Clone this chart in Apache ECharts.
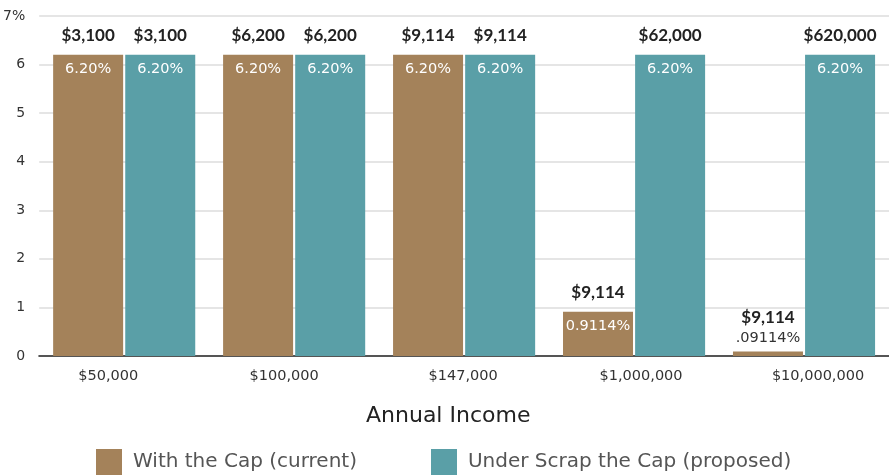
<!DOCTYPE html>
<html>
<head>
<meta charset="utf-8">
<script src="https://cdn.jsdelivr.net/npm/echarts@6/dist/echarts.min.js"></script>
<style>
  html, body { margin: 0; padding: 0; background: #fff; }
  #chart { width: 889px; height: 475px; }
</style>
</head>
<body>
<div id="chart"></div>
<script>
const incomes = ['$50,000', '$100,000', '$147,000', '$1,000,000', '$10,000,000']
const withCapRate = [6.2, 6.2, 6.2, 0.9114, 0.09114]
const scrapCapRate = [6.2, 6.2, 6.2, 6.2, 6.2]
const withCapTax = ['$3,100', '$6,200', '$9,114', '$9,114', '$9,114']
const scrapCapTax = ['$3,100', '$6,200', '$9,114', '$62,000', '$620,000']
const withCapRateText = ['6.20%', '6.20%', '6.20%', '0.9114%', '.09114%']
const scrapCapRateText = ['6.20%', '6.20%', '6.20%', '6.20%', '6.20%']

const BROWN = '#A4825A'
const TEAL = '#5A9FA7'
const FONT = 'DejaVu Sans'
const BOLD_FONT = 'Lato'

// 原图 x 轴标签没有正好居中在柱组下面，逐个微调（像素）
const labelShift = [-16, -10, -1, 7, 14]
const labelRich = {}
labelShift.forEach((s, i) => {
  labelRich['s' + i] = {
    fontSize: 14.5,
    color: '#333',
    fontFamily: FONT,
    padding: s < 0 ? [0, -2 * s, 0, 0] : [0, 0, 0, 2 * s]
  }
})

const barCommon = {
  type: 'bar',
  barWidth: 70,
  barGap: '3%',
  barCategoryGap: '16%'
}

// 美元金额标签（粗体，柱顶上方）
function taxData (rates) {
  return rates.map((v) => {
    const item = { value: v }
    // 很矮的柱子：百分比放在上面，金额再往上挪
    if (v < 0.5) {
      item.label = { distance: 26 }
    }
    return item
  })
}

// 百分比标签（白色，柱内顶部）
function rateData (rates) {
  return rates.map((v) => {
    const item = { value: v }
    if (v < 0.5) {
      item.label = { position: 'top', distance: 6, color: '#333' }
    }
    return item
  })
}

function rateSeries (name, rates, texts) {
  return {
    ...barCommon,
    name,
    xAxisIndex: 1,
    silent: true,
    itemStyle: { color: 'rgba(0,0,0,0)' },
    label: {
      show: true,
      position: 'insideTop',
      distance: 7,
      fontSize: 14.5,
      fontFamily: FONT,
      color: '#fff',
      formatter: (p) => texts[p.dataIndex]
    },
    data: rateData(rates)
  }
}

function taxSeries (name, color, rates, taxes) {
  return {
    ...barCommon,
    name,
    itemStyle: { color },
    label: {
      show: true,
      position: 'top',
      distance: 11,
      fontSize: 17,
      fontWeight: 'bold',
      fontFamily: BOLD_FONT,
      color: '#222',
      formatter: (p) => taxes[p.dataIndex]
    },
    data: taxData(rates)
  }
}

const chart = echarts.init(document.getElementById('chart'))
chart.setOption({
  animation: false,
  textStyle: { fontFamily: FONT },
  title: {
    text: 'Annual Income',
    left: 366,
    top: 405,
    padding: 0,
    textStyle: { fontSize: 22, fontWeight: 'normal', color: '#222', fontFamily: FONT }
  },
  grid: { left: 38, right: 0, top: 16, bottom: 119 },
  legend: {
    data: ['With the Cap (current)', 'Under Scrap the Cap (proposed)'],
    top: 449,
    left: 96,
    padding: 0,
    icon: 'rect',
    itemWidth: 26,
    itemHeight: 26,
    itemGap: 74,
    textStyle: { fontSize: 20, color: '#555', fontFamily: FONT, padding: [0, 0, 0, 6] }
  },
  xAxis: [
    {
      type: 'category',
      data: incomes,
      axisTick: { show: false },
      axisLine: { lineStyle: { color: '#555', width: 2 } },
      axisLabel: {
        margin: 13,
        rich: labelRich,
        formatter: (v, i) => `{s${i}|${v}}`
      }
    },
    {
      type: 'category',
      data: incomes,
      show: false
    }
  ],
  yAxis: {
    type: 'value',
    min: 0,
    max: 7,
    interval: 1,
    axisLine: { show: false },
    axisTick: { show: false },
    splitLine: { lineStyle: { color: '#dcdcdc', width: 1.5 } },
    axisLabel: {
      fontSize: 14,
      color: '#333',
      margin: 14,
      fontFamily: FONT,
      formatter: (v) => (v === 7 ? '7%' : String(v))
    }
  },
  series: [
    taxSeries('With the Cap (current)', BROWN, withCapRate, withCapTax),
    taxSeries('Under Scrap the Cap (proposed)', TEAL, scrapCapRate, scrapCapTax),
    rateSeries('withCapRate', withCapRate, withCapRateText),
    rateSeries('scrapCapRate', scrapCapRate, scrapCapRateText)
  ]
})
</script>
</body>
</html>
